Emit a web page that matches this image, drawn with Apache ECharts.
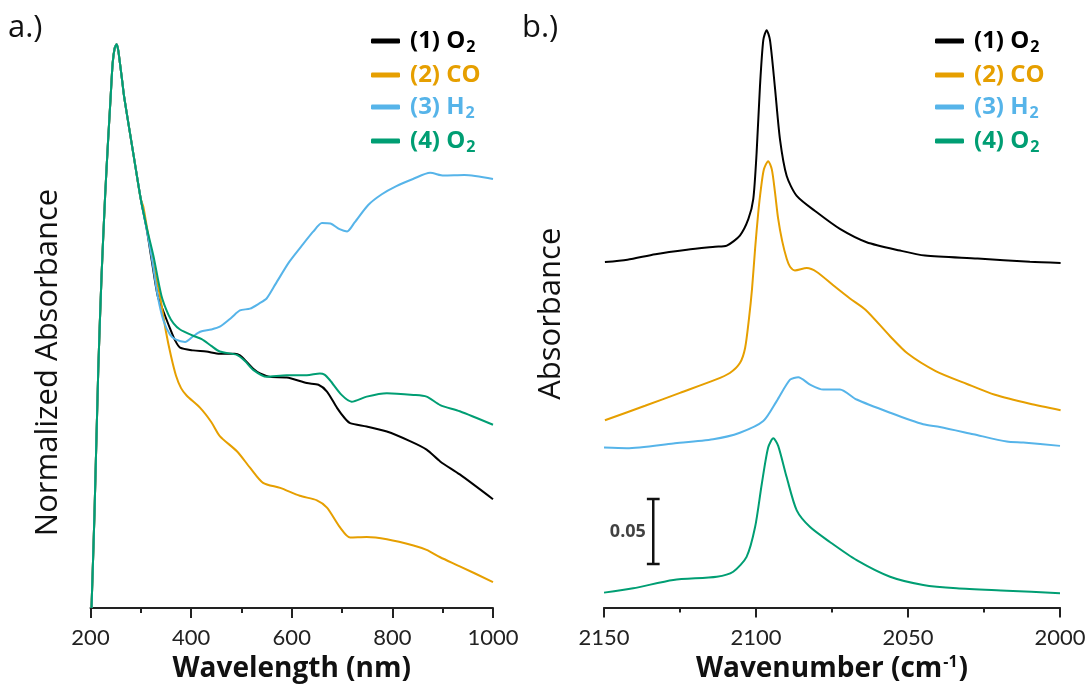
<!DOCTYPE html>
<html>
<head>
<meta charset="utf-8">
<script src="https://cdn.jsdelivr.net/npm/echarts@6/dist/echarts.min.js"></script>
<style>html,body{margin:0;padding:0;background:#fff;}#c{width:1089px;height:688px;}</style>
</head>
<body>
<div id="c"></div>
<script>
// ---------- DATA ----------
var seriesNames = ['(1) O2', '(2) CO', '(3) H2', '(4) O2'];
var seriesColors = ['#000000', '#E69F00', '#56B4E9', '#009E73'];

// (a) UV-Vis, normalized absorbance vs wavelength (nm)
var uvShared = [[202,0],[208,0.17],[215.5,0.425],[222,0.59],[229,0.73],[235,0.83],[240,0.906],[244,0.966],[248,0.993],[252,1.0],[255,0.99],[258.6,0.966],[263,0.935],[267,0.906],[278,0.845],[288,0.79],[300,0.725]];
var uvO2first = [[311.7,0.672],[322,0.615],[333.5,0.554],[345,0.526],[358,0.496],[368,0.475],[378,0.462],[404,0.457],[430,0.455],[457,0.451],[487,0.451],[497,0.448],[510,0.437],[524,0.424],[537,0.416],[557,0.41],[590,0.409],[630,0.399],[653,0.396],[670,0.384],[690,0.355],[705,0.337],[716,0.328],[749,0.322],[789,0.313],[835,0.296],[868,0.281],[895,0.26],[934,0.237],[1000,0.193]];
var uvCO = [[305,0.712],[315,0.66],[325,0.61],[338,0.554],[350,0.49],[360,0.447],[370,0.412],[380,0.39],[391,0.377],[418,0.355],[440,0.33],[457,0.305],[491,0.278],[517,0.249],[543,0.222],[577,0.213],[616,0.199],[650,0.191],[670,0.178],[696,0.143],[716,0.125],[749,0.126],[789,0.122],[842,0.111],[868,0.103],[895,0.09],[934,0.074],[1000,0.046]];
var uvH2 = [[311.7,0.672],[322,0.62],[333.5,0.554],[345,0.51],[358,0.485],[370,0.476],[388,0.472],[404,0.482],[418,0.49],[440,0.494],[457,0.499],[480,0.515],[497,0.528],[517,0.531],[535,0.54],[550,0.549],[568,0.575],[595,0.614],[622,0.645],[643,0.668],[660,0.683],[677,0.682],[695,0.672],[710,0.668],[725,0.684],[752,0.715],[779,0.734],[807,0.748],[841,0.761],[875,0.772],[902,0.767],[943,0.768],[1000,0.761]];
var uvO2second = [[311.7,0.675],[325,0.625],[341,0.554],[355,0.52],[365,0.505],[378,0.494],[404,0.483],[421,0.477],[440,0.465],[457,0.455],[491,0.449],[507,0.438],[524,0.422],[550,0.41],[590,0.413],[630,0.413],[656,0.416],[665,0.414],[676,0.404],[699,0.378],[719,0.366],[749,0.375],[789,0.381],[842,0.378],[868,0.375],[895,0.36],[934,0.349],[1000,0.325]];

// (b) IR, absorbance (offset traces) vs wavenumber (cm-1)
var irO2first = [[2149.7,0.2646],[2142.3,0.2664],[2133.1,0.2706],[2122.7,0.274],[2113.5,0.2763],[2109.6,0.2772],[2105.3,0.2849],[2102.5,0.2976],[2100.9,0.3128],[2099.8,0.3483],[2098.7,0.399],[2097.6,0.4346],[2096.5,0.4422],[2095.4,0.4346],[2093.8,0.399],[2092.1,0.3584],[2089.9,0.3305],[2086.6,0.3153],[2080,0.3027],[2072.4,0.29],[2063.6,0.2798],[2052.6,0.2734],[2044.4,0.2696],[2027.1,0.2673],[2009.9,0.2648],[1999.8,0.2639]];
var irCO = [[2149.7,0.1434],[2136.5,0.1545],[2125,0.1644],[2113.5,0.1743],[2108.6,0.1796],[2105.3,0.1872],[2103.6,0.1986],[2102.3,0.2215],[2101.3,0.2443],[2100.3,0.2747],[2099.3,0.3014],[2098.4,0.3204],[2097.4,0.3356],[2096,0.3419],[2094.8,0.3356],[2093.8,0.3189],[2092.7,0.2976],[2091.4,0.2808],[2089.9,0.2671],[2088.8,0.261],[2087.2,0.2582],[2083.3,0.26],[2080,0.257],[2074.6,0.2468],[2069.1,0.2367],[2063.9,0.2279],[2055.9,0.2078],[2050.1,0.1945],[2040.9,0.1811],[2030.6,0.1712],[2021.4,0.1629],[2009.9,0.156],[1999.8,0.1511]];
var irH2 = [[2150,0.1225],[2142.5,0.122],[2127.2,0.1256],[2114.1,0.1289],[2105.3,0.1339],[2097.6,0.1428],[2093.2,0.1581],[2088.8,0.1745],[2086.1,0.1763],[2082.2,0.1707],[2077.9,0.1669],[2072.4,0.1669],[2066.9,0.1593],[2055.9,0.1492],[2045,0.1403],[2039.5,0.1383],[2028.5,0.1327],[2017.5,0.1271],[2012.1,0.1263],[2000,0.1238]];
var irO2second = [[2150,0.0114],[2140.4,0.0147],[2127.2,0.0211],[2112.9,0.0236],[2107.5,0.0274],[2103.1,0.0388],[2100.3,0.0616],[2098.1,0.0946],[2096,0.1225],[2094.3,0.1296],[2092.7,0.1238],[2089.9,0.0997],[2086.6,0.0744],[2082.2,0.0616],[2075.7,0.0502],[2066.9,0.0363],[2055.9,0.0236],[2045,0.0173],[2034,0.0147],[2017.5,0.0129],[2000,0.0109]];

// scale bar for panel (b): wavenumber position, bottom, top (absorbance), cap half-width
var scaleBarX = 2133.8;
var scaleBarY = [0.0333, 0.0832];
var scaleBarCap = 2.1;
var scaleBarLabel = '0.05';

var uvTicks = [200, 400, 600, 800, 1000];
var irTicks = [2000, 2050, 2100, 2150];

// ---------- CHART ----------
var FONT = 'Lato';
var TFONT = 'Open Sans';
var uvData = [
  uvShared.concat(uvO2first),
  uvShared.concat(uvCO),
  uvShared.concat(uvH2),
  uvShared.concat(uvO2second)
];
var irData = [irO2first, irCO, irH2, irO2second];

var series = [];
for (var i = 0; i < 4; i++) {
  series.push({
    type: 'line', name: seriesNames[i], xAxisIndex: 0, yAxisIndex: 0,
    data: uvData[i], showSymbol: false, smooth: 0.25,
    lineStyle: {width: 2, color: seriesColors[i]}, itemStyle: {color: seriesColors[i]}, z: 2 + i
  });
}
for (var j = 0; j < 4; j++) {
  series.push({
    type: 'line', name: seriesNames[j], xAxisIndex: 1, yAxisIndex: 1,
    data: irData[j], showSymbol: false, smooth: 0.25,
    lineStyle: {width: 2, color: seriesColors[j]}, itemStyle: {color: seriesColors[j]}, z: 2 + j
  });
}
// scale bar (drawn through axes)
var sbData = [
  [scaleBarX + scaleBarCap, scaleBarY[0]], [scaleBarX - scaleBarCap, scaleBarY[0]],
  [scaleBarX, scaleBarY[0]], [scaleBarX, scaleBarY[1]],
  [scaleBarX + scaleBarCap, scaleBarY[1]], [scaleBarX - scaleBarCap, scaleBarY[1]]
];
series.push({
  type: 'line', name: 'scalebar', xAxisIndex: 1, yAxisIndex: 1, data: sbData,
  showSymbol: false, lineStyle: {width: 2.5, color: '#111'}, silent: true
});
series.push({
  type: 'scatter', name: 'scalebarLabel', xAxisIndex: 1, yAxisIndex: 1,
  data: [[scaleBarX + scaleBarCap, (scaleBarY[0] + scaleBarY[1]) / 2]],
  symbolSize: 0, silent: true,
  label: {show: true, position: 'left', distance: 1, formatter: scaleBarLabel,
    fontFamily: TFONT, fontWeight: 'bold', fontSize: 18, color: '#111'}
});

function legendFmt(name) {
  var m = name.match(/^(.*[OH])2$/);
  if (m) return '{t|' + m[1] + '}{s|2}';
  return '{t|' + name + '}';
}
function makeLegend(left) {
  return {
    left: left, top: 24, orient: 'vertical', itemWidth: 29, itemHeight: 5, itemGap: 8,
    icon: 'roundRect', selectedMode: false,
    data: seriesNames.map(function (n, k) { return {name: n, textStyle: {color: seriesColors[k]}}; }),
    formatter: legendFmt,
    textStyle: {
      fontFamily: TFONT, fontWeight: 'bold', fontSize: 24, padding: [0, 0, 0, 5],
      rich: {
        t: {fontFamily: TFONT, fontWeight: 'bold', fontSize: 24},
        s: {fontFamily: TFONT, fontWeight: 'bold', fontSize: 16, padding: [12, 0, 0, 1]}
      }
    }
  };
}

function plainNum(v) { return String(v); }
var axisLineStyle = {show: true, lineStyle: {color: '#222', width: 2}};
var option = {
  animation: false,
  backgroundColor: '#fff',
  grid: [
    {left: 90.5, right: 596, top: 33, bottom: 77},
    {left: 604, right: 29, top: 20, bottom: 77}
  ],
  legend: [makeLegend(366), makeLegend(930)],
  xAxis: [
    {
      type: 'value', gridIndex: 0, min: uvTicks[0], max: uvTicks[uvTicks.length - 1], interval: 200,
      axisLine: axisLineStyle,
      axisTick: {show: true, length: 10, lineStyle: {color: '#222', width: 2}},
      minorTick: {show: true, splitNumber: 2, length: 5, lineStyle: {color: '#222', width: 2}},
      splitLine: {show: false}, minorSplitLine: {show: false},
      axisLabel: {fontFamily: FONT, fontSize: 22, color: '#222', margin: 19, formatter: plainNum},
      name: 'Wavelength (nm)', nameLocation: 'middle', nameGap: 47,
      nameTextStyle: {fontFamily: TFONT, fontWeight: 'bold', fontSize: 28, color: '#111'}
    },
    {
      type: 'value', gridIndex: 1, min: irTicks[0], max: irTicks[irTicks.length - 1], interval: 50, inverse: true,
      axisLine: axisLineStyle,
      axisTick: {show: true, length: 10, lineStyle: {color: '#222', width: 2}},
      minorTick: {show: true, splitNumber: 2, length: 5, lineStyle: {color: '#222', width: 2}},
      splitLine: {show: false}, minorSplitLine: {show: false},
      axisLabel: {fontFamily: FONT, fontSize: 22, color: '#222', margin: 19, formatter: plainNum},
      name: '{a|Wavenumber (cm}{u|-1}{a|)}', nameLocation: 'middle', nameGap: 47,
      nameTextStyle: {fontFamily: TFONT, fontWeight: 'bold', fontSize: 28, color: '#111',
        rich: {
          a: {fontFamily: TFONT, fontWeight: 'bold', fontSize: 28, color: '#111'},
          u: {fontFamily: TFONT, fontWeight: 'bold', fontSize: 16, color: '#111', padding: [0, 1, 13, 1]}
        }
      }
    }
  ],
  yAxis: [
    {
      type: 'value', gridIndex: 0, min: 0, max: 1.02,
      axisLine: {show: false}, axisTick: {show: false}, axisLabel: {show: false}, splitLine: {show: false},
      name: 'Normalized Absorbance', nameLocation: 'middle', nameGap: 27,
      nameTextStyle: {fontFamily: TFONT, fontSize: 31, color: '#111', padding: [0, 84, 0, 0]}
    },
    {
      type: 'value', gridIndex: 1, min: 0, max: 0.45,
      axisLine: {show: false}, axisTick: {show: false}, axisLabel: {show: false}, splitLine: {show: false},
      name: 'Absorbance', nameLocation: 'middle', nameGap: 37,
      nameTextStyle: {fontFamily: TFONT, fontSize: 31, color: '#111', padding: [0, 0, 0, 0]}
    }
  ],
  graphic: [
    {type: 'text', left: 8, top: 13, style: {text: 'a.)', fontFamily: TFONT, fontSize: 31, fill: '#111'}},
    {type: 'text', left: 522, top: 13, style: {text: 'b.)', fontFamily: TFONT, fontSize: 31, fill: '#111'}}
  ],
  series: series
};

var chart = echarts.init(document.getElementById('c'), null, {renderer: 'canvas'});
chart.setOption(option);
</script>
</body>
</html>
